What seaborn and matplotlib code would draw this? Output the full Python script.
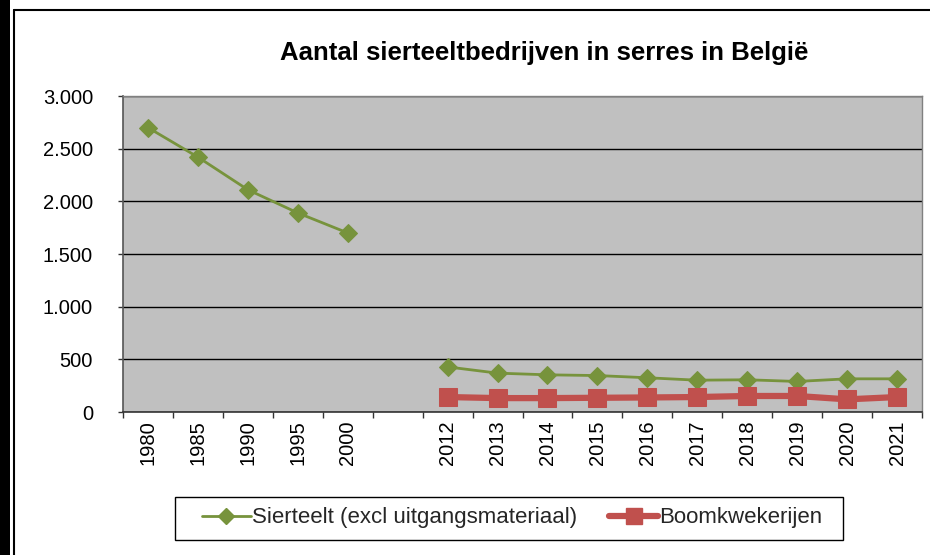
import numpy as np
import pandas as pd
import matplotlib
matplotlib.use("Agg")
import matplotlib.pyplot as plt
from matplotlib.patches import Rectangle
from matplotlib.lines import Line2D
from matplotlib.ticker import FuncFormatter, FixedLocator
import seaborn as sns

categories = ["1980", "1985", "1990", "1995", "2000", "",
              "2012", "2013", "2014", "2015", "2016", "2017", "2018", "2019", "2020", "2021"]
sierteelt = [2700, 2420, 2110, 1890, 1700, np.nan,
             428, 369, 353, 346, 325, 302, 306, 290, 315, 315]
boomkwekerijen = [np.nan, np.nan, np.nan, np.nan, np.nan, np.nan,
                  142, 132, 132, 135, 138, 142, 152, 152, 120, 142]
segment = [0, 0, 0, 0, 0, 0, 1, 1, 1, 1, 1, 1, 1, 1, 1, 1]

name_green = "Sierteelt (excl uitgangsmateriaal)"
name_red = "Boomkwekerijen"
title = "Aantal sierteeltbedrijven in serres in België"

df = pd.DataFrame({"pos": range(len(categories)), "cat": categories,
                   "green": sierteelt, "red": boomkwekerijen, "seg": segment})

sns.set_theme(style="white")
plt.rcParams["font.family"] = ["Liberation Sans", "DejaVu Sans"]

green = "#77933C"
red = "#C0504D"

fig = plt.figure(figsize=(9.3, 5.55), dpi=100)
ax = fig.add_axes([123 / 930, 1 - 412 / 555, (922 - 123) / 930, (412 - 96) / 555])
ax.set_facecolor("#C0C0C0")

# green series has a break between 2000 and 2012, so draw it as two units
sns.lineplot(data=df.dropna(subset=["green"]), x="pos", y="green", units="seg",
             estimator=None, color=green, lw=2, marker="D", markersize=9,
             markeredgecolor=green, ax=ax, legend=False)
sns.lineplot(data=df.dropna(subset=["red"]), x="pos", y="red",
             estimator=None, color=red, lw=4.5, marker="s", markersize=13.5,
             markeredgecolor=red, ax=ax, legend=False)

ax.set_xlim(-0.5, len(categories) - 0.5)
ax.set_ylim(0, 3000)
ax.set_yticks(range(0, 3001, 500))
ax.yaxis.set_major_formatter(FuncFormatter(lambda v, p: f"{int(v):,}".replace(",", ".")))
ax.yaxis.grid(True, color="black", lw=1)
ax.set_axisbelow(True)

ax.set_xticks(df["pos"])
ax.set_xticklabels(categories, rotation=90)
ax.xaxis.set_minor_locator(FixedLocator(np.arange(-0.5, len(categories), 1)))
ax.tick_params(axis="x", which="major", length=0, pad=6, labelsize=14.5, colors="black")
ax.tick_params(axis="x", which="minor", length=4.3, width=1, color="#333333", direction="out", bottom=True)
ax.tick_params(axis="y", length=3.6, width=1, color="#333333", direction="out", left=True,
               labelsize=14.5, labelcolor="black", pad=18)
ax.set_xlabel("")
ax.set_ylabel("")

for side in ["top", "right"]:
    ax.spines[side].set_color("#808080")
    ax.spines[side].set_linewidth(1)
ax.spines["left"].set_color("#555555")
ax.spines["bottom"].set_color("#333333")
for side in ["left", "bottom"]:
    ax.spines[side].set_linewidth(1.2)

fig.text(544 / 930, 1 - 53 / 555, title, ha="center", va="center",
         fontsize=18.5, fontweight="bold", color="black")

handles = [Line2D([], [], color=green, lw=2, marker="D", markersize=8),
           Line2D([], [], color=red, lw=4.5, marker="s", markersize=12)]
leg = fig.legend(handles, [name_green, name_red], loc="center",
                 bbox_to_anchor=(512 / 930, 1 - 518 / 555), ncol=2, fontsize=16,
                 frameon=False, handlelength=2.2, handletextpad=0.05,
                 columnspacing=1.45, borderpad=0.35)
# legend box drawn as a plain rectangle (wider than the legend's own padding)
fig.add_artist(Rectangle((175 / 930, 1 - 540 / 555), 668 / 930, 43 / 555,
                         transform=fig.transFigure, fill=False, ec="black", lw=1))

# black strip and outer chart frame
fig.add_artist(Rectangle((0, 0), 10 / 930, 1, transform=fig.transFigure,
                         color="black", lw=0))
fig.add_artist(Line2D([14 / 930, 14 / 930], [0, 1 - 10 / 555], transform=fig.transFigure,
                      color="black", lw=1.5))
fig.add_artist(Line2D([14 / 930, 1], [1 - 10 / 555, 1 - 10 / 555], transform=fig.transFigure,
                      color="black", lw=1.5))

fig.savefig("out.png", dpi=100)
